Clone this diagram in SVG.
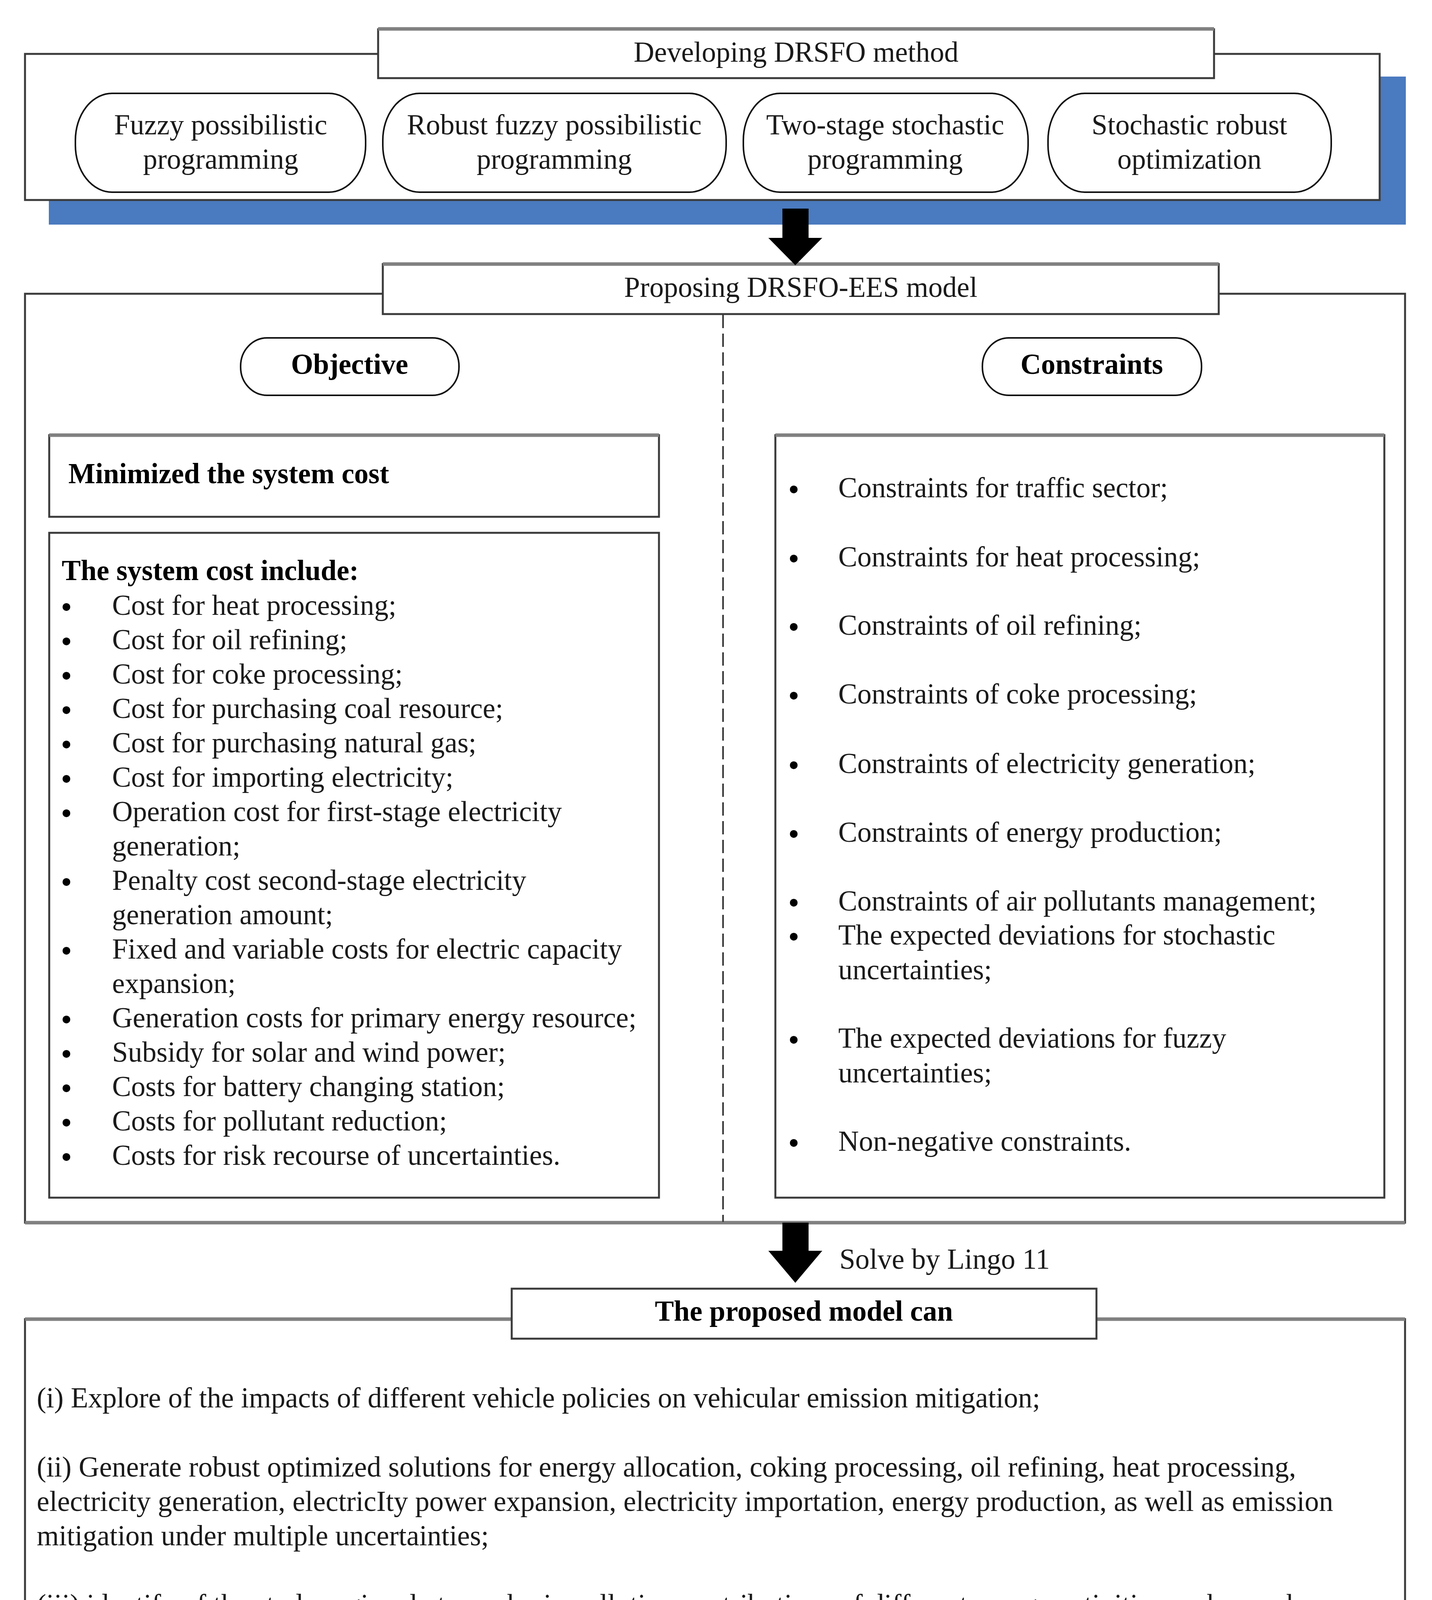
<svg xmlns="http://www.w3.org/2000/svg" width="3666" height="4369" viewBox="0 0 3666 4369">
<style>
.t{font-family:"Liberation Serif","Times New Roman",serif;font-size:73px;fill:#1a1a1a}
.b{font-weight:bold;fill:#000}
.m{text-anchor:middle}
.box{fill:#fff;stroke:#3a3a3a;stroke-width:5}
.pill{fill:#fff;stroke:#111;stroke-width:4}
.gray{stroke:#808080;stroke-width:9;fill:none}
.bul{font-family:"Liberation Serif","Times New Roman",serif;font-size:73px;font-weight:bold;fill:#000;text-anchor:middle}
</style>
<rect width="3666" height="4369" fill="#fff"/>

<g id="method-panel">
<rect x="125" y="196" width="3474" height="379" fill="#4a7abf"/>
<rect class="box" x="64" y="138" width="3468" height="374"/>
</g>
<g id="method-title">
<rect class="box" x="968" y="75" width="2140" height="125"/>
<line class="gray" x1="968" y1="74" x2="3108" y2="74"/>
<text class="t m" x="2038" y="158">Developing DRSFO method</text>
</g>
<g id="fpp">
<rect class="pill" x="193" y="239" width="743" height="253" rx="94" ry="120"/>
<text class="t m" x="565" y="344">Fuzzy possibilistic</text>
<text class="t m" x="565" y="432">programming</text>
</g>
<g id="rfpp">
<rect class="pill" x="980" y="239" width="879" height="253" rx="94" ry="120"/>
<text class="t m" x="1419" y="344">Robust fuzzy possibilistic</text>
<text class="t m" x="1419" y="432">programming</text>
</g>
<g id="tssp">
<rect class="pill" x="1903" y="239" width="729" height="253" rx="94" ry="120"/>
<text class="t m" x="2266" y="344">Two-stage stochastic</text>
<text class="t m" x="2266" y="432">programming</text>
</g>
<g id="sro">
<rect class="pill" x="2683" y="239" width="725" height="253" rx="94" ry="120"/>
<text class="t m" x="3045" y="344">Stochastic robust</text>
<text class="t m" x="3045" y="432">optimization</text>
</g>

<g id="model-panel">
<rect class="box" x="64" y="752" width="3533" height="2378" stroke-width="4"/>
<line class="gray" x1="64" y1="3130" x2="3597" y2="3130"/>
</g>
<g id="model-title">
<rect class="box" x="980" y="676" width="2140" height="128"/>
<line class="gray" x1="980" y1="676" x2="3120" y2="676"/>
<text class="t m" x="2050" y="760">Proposing DRSFO-EES model</text>
</g>
<g id="objective">
<rect class="pill" x="616" y="865" width="559" height="147" rx="68" ry="72"/>
<text class="t b m" x="895" y="957">Objective</text>
</g>
<g id="constraints-label">
<rect class="pill" x="2515" y="865" width="561" height="147" rx="68" ry="72"/>
<text class="t b m" x="2795" y="957">Constraints</text>
</g>
<g id="minimized">
<rect class="box" x="126" y="1114" width="1561" height="209" stroke="#555"/>
<line class="gray" x1="126" y1="1114" x2="1687" y2="1114"/>
<text class="t b" x="175" y="1237">Minimized the system cost</text>
</g>
<g id="cost-list">
<rect class="box" x="126" y="1364" width="1561" height="1702" stroke="#555"/>
<text class="t b" x="158" y="1485">The system cost include:</text>
<g class="bul">
<text x="170" y="1579">•</text><text x="170" y="1667">•</text><text x="170" y="1755">•</text><text x="170" y="1843">•</text><text x="170" y="1931">•</text><text x="170" y="2019">•</text><text x="170" y="2107">•</text><text x="170" y="2283">•</text><text x="170" y="2459">•</text><text x="170" y="2635">•</text><text x="170" y="2723">•</text><text x="170" y="2811">•</text><text x="170" y="2899">•</text><text x="170" y="2987">•</text>
</g>
<text class="t" x="287" y="1574">Cost for heat processing;</text>
<text class="t" x="287" y="1662">Cost for oil refining;</text>
<text class="t" x="287" y="1750">Cost for coke processing;</text>
<text class="t" x="287" y="1838">Cost for purchasing coal resource;</text>
<text class="t" x="287" y="1926">Cost for purchasing natural gas;</text>
<text class="t" x="287" y="2014">Cost for importing electricity;</text>
<text class="t" x="287" y="2102">Operation cost for first-stage electricity</text>
<text class="t" x="287" y="2190">generation;</text>
<text class="t" x="287" y="2278">Penalty cost second-stage electricity</text>
<text class="t" x="287" y="2366">generation amount;</text>
<text class="t" x="287" y="2454">Fixed and variable costs for electric capacity</text>
<text class="t" x="287" y="2542">expansion;</text>
<text class="t" x="287" y="2630">Generation costs for primary energy resource;</text>
<text class="t" x="287" y="2718">Subsidy for solar and wind power;</text>
<text class="t" x="287" y="2806">Costs for battery changing station;</text>
<text class="t" x="287" y="2894">Costs for pollutant reduction;</text>
<text class="t" x="287" y="2982">Costs for risk recourse of uncertainties.</text>
</g>
<g id="constraints-list">
<rect class="box" x="1985" y="1114" width="1559" height="1952" stroke="#222" stroke-width="4"/>
<line class="gray" x1="1985" y1="1114" x2="3544" y2="1114"/>
<g class="bul">
<text x="2032" y="1278">•</text><text x="2032" y="1455">•</text><text x="2032" y="1630">•</text><text x="2032" y="1806">•</text><text x="2032" y="1984">•</text><text x="2032" y="2160">•</text><text x="2032" y="2336">•</text><text x="2032" y="2423">•</text><text x="2032" y="2687">•</text><text x="2032" y="2951">•</text>
</g>
<text class="t" x="2146" y="1273">Constraints for traffic sector;</text>
<text class="t" x="2146" y="1450">Constraints for heat processing;</text>
<text class="t" x="2146" y="1625">Constraints of oil refining;</text>
<text class="t" x="2146" y="1801">Constraints of coke processing;</text>
<text class="t" x="2146" y="1979">Constraints of electricity generation;</text>
<text class="t" x="2146" y="2155">Constraints of energy production;</text>
<text class="t" x="2146" y="2331">Constraints of air pollutants management;</text>
<text class="t" x="2146" y="2418">The expected deviations for stochastic</text>
<text class="t" x="2146" y="2507">uncertainties;</text>
<text class="t" x="2146" y="2682">The expected deviations for fuzzy</text>
<text class="t" x="2146" y="2771">uncertainties;</text>
<text class="t" x="2146" y="2946">Non-negative constraints.</text>
</g>

<g id="result-panel">
<rect class="box" x="64" y="3377" width="3533" height="918" stroke="#222" stroke-width="5"/>
<line class="gray" x1="64" y1="3377" x2="3597" y2="3377"/>
<text class="t" x="94" y="3603">(i) Explore of the impacts of different vehicle policies on vehicular emission mitigation;</text>
<text class="t" x="94" y="3780">(ii) Generate robust optimized solutions for energy allocation, coking processing, oil refining, heat processing,</text>
<text class="t" x="94" y="3868">electricity generation, electricIty power expansion, electricity importation, energy production, as well as emission</text>
<text class="t" x="94" y="3956">mitigation under multiple uncertainties;</text>
<text class="t" x="94" y="4132">(iii) identify of the study regional atmospheric pollution contributions of different energy activities such as coke</text>
<text class="t" x="94" y="4220">processing, heat processing, oil refining, electricity generation, and motor vehicle operation.</text>
</g>
<g id="result-title">
<rect class="box" x="1310" y="3299" width="1497" height="128"/>
<text class="t b m" x="2058" y="3381">The proposed model can</text>
</g>

<g id="connectors">
<polygon points="2003,534 2070,534 2070,609 2105,609 2036,679 1967,609 2003,609" fill="#000"/>
<line x1="1851" y1="806" x2="1851" y2="3128" stroke="#333" stroke-width="4" stroke-dasharray="34 14"/>
<polygon points="2003,3130 2070,3130 2070,3202 2105,3202 2036,3284 1967,3202 2003,3202" fill="#000"/>
<text class="t" x="2149" y="3248" fill="#333">Solve by Lingo 11</text>
</g>
</svg>
